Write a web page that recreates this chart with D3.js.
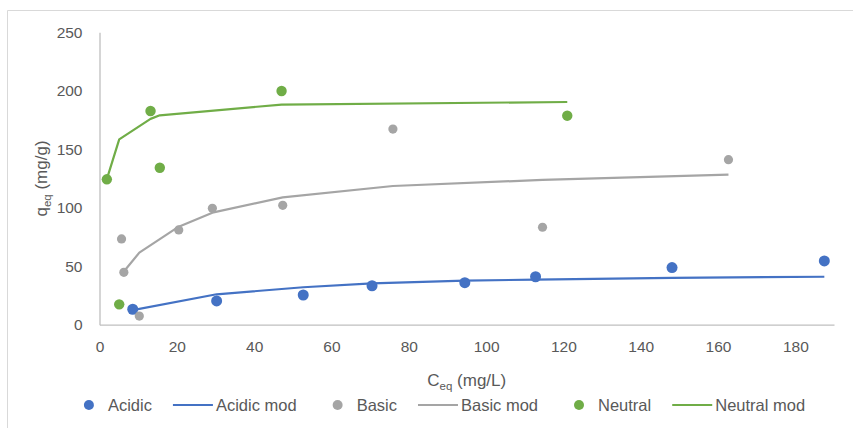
<!DOCTYPE html>
<html>
<head>
<meta charset="utf-8">
<script src="https://cdn.jsdelivr.net/npm/d3@7"></script>
<style>
  html, body { margin: 0; padding: 0; background: #fff; }
  svg { display: block; }
  text { font-family: "Liberation Sans", Arial, sans-serif; fill: #595959; }
</style>
</head>
<body>
<svg id="chart" width="853" height="428"></svg>
<script>
// ---- Data ----
const acidicX   = [8.6, 30.3, 52.7, 70.5, 94.5, 112.8, 148.1, 187.5];
const acidicY   = [13.2, 20.3, 25.4, 33.3, 35.9, 41.0, 48.8, 54.5];
const acidicMod = [12.5, 26.0, 32.0, 35.4, 37.6, 38.6, 40.0, 41.0];

const basicX    = [5.7, 6.3, 10.3, 20.5, 29.2, 47.4, 75.9, 114.6, 162.7];
const basicY    = [73.3, 44.8, 7.4, 81.0, 99.5, 102.1, 167.3, 83.3, 141.1];
const basicMod  = [42.5, 45.5, 61.6, 83.8, 95.8, 108.9, 118.6, 123.8, 128.3];

const neutralX   = [1.9, 5.1, 13.2, 15.6, 47.1, 121.0];
const neutralY   = [124.3, 17.4, 182.7, 134.2, 199.8, 178.7];
const neutralMod = [124.5, 158.5, 176.0, 179.0, 188.2, 190.4];

const xTicks = [0, 20, 40, 60, 80, 100, 120, 140, 160, 180];
const yTicks = [0, 50, 100, 150, 200, 250];

const legendLabels = ["Acidic", "Acidic mod", "Basic", "Basic mod", "Neutral", "Neutral mod"];
const colors = { acidic: "#4472C4", basic: "#A5A5A5", neutral: "#70AD47" };

// ---- Layout ----
const svg = d3.select("#chart");
const plot = { left: 99.5, right: 834, top: 32.3, bottom: 324.7 };

const x = d3.scaleLinear().domain([0, 190]).range([plot.left, plot.right]);
const y = d3.scaleLinear().domain([0, 250]).range([plot.bottom, plot.top]);

// chart border (outer frame)
svg.append("path")
  .attr("d", `M7.5,430 L7.5,10.5 L860,10.5`)
  .attr("fill", "none").attr("stroke", "#D9D9D9").attr("stroke-width", 1);

// axes
const xAxis = d3.axisBottom(x).tickValues(xTicks).tickSize(0).tickPadding(16);
const gx = svg.append("g").attr("transform", `translate(0,${plot.bottom})`).call(xAxis);
gx.select(".domain").attr("stroke", "#BFBFBF").attr("stroke-width", 1.3);
gx.selectAll("text").attr("font-size", 15.5).style("fill", "#595959");

const yAxis = d3.axisLeft(y).tickValues(yTicks).tickSize(0).tickPadding(17);
const gy = svg.append("g").attr("transform", `translate(${plot.left},0)`).call(yAxis);
gy.select(".domain").attr("stroke", "#BFBFBF").attr("stroke-width", 1.3);
gy.selectAll("text").attr("font-size", 15.5).style("fill", "#595959");

// axis titles
const xt = svg.append("text").attr("x", (plot.left + plot.right) / 2).attr("y", 386)
  .attr("text-anchor", "middle").attr("font-size", 17);
xt.append("tspan").text("C");
xt.append("tspan").text("eq").attr("font-size", 11.5).attr("dy", 4);
xt.append("tspan").text(" (mg/L)").attr("dy", -4);

const yt = svg.append("text")
  .attr("transform", `translate(47,${(plot.top + plot.bottom) / 2}) rotate(-90)`)
  .attr("text-anchor", "middle").attr("font-size", 17);
yt.append("tspan").text("q");
yt.append("tspan").text("eq").attr("font-size", 11.5).attr("dy", 4);
yt.append("tspan").text(" (mg/g)").attr("dy", -4);

// series
const series = [
  { key: "acidic", xs: acidicX, ys: acidicY, mod: acidicMod, r: 5.5 },
  { key: "basic", xs: basicX, ys: basicY, mod: basicMod, r: 4.6 },
  { key: "neutral", xs: neutralX, ys: neutralY, mod: neutralMod, r: 5.2 }
];

const line = d3.line().x(d => x(d[0])).y(d => y(d[1]));

series.forEach(s => {
  const modPts = s.xs.map((v, i) => [v, s.mod[i]]);
  svg.append("path").datum(modPts)
    .attr("d", line).attr("fill", "none")
    .attr("stroke", colors[s.key]).attr("stroke-width", 2.2)
    .attr("stroke-linejoin", "round");
});
series.forEach(s => {
  const pts = s.xs.map((v, i) => [v, s.ys[i]]);
  svg.append("g").selectAll("circle").data(pts).join("circle")
    .attr("cx", d => x(d[0])).attr("cy", d => y(d[1])).attr("r", s.r)
    .attr("fill", colors[s.key]);
});

// legend
const legendY = 405;
const legendItems = [
  { label: legendLabels[0], key: "acidic", type: "dot" },
  { label: legendLabels[1], key: "acidic", type: "line" },
  { label: legendLabels[2], key: "basic", type: "dot" },
  { label: legendLabels[3], key: "basic", type: "line" },
  { label: legendLabels[4], key: "neutral", type: "dot" },
  { label: legendLabels[5], key: "neutral", type: "line" }
];
const lg = svg.append("g");
let cursor = 0;
legendItems.forEach(it => {
  const g = lg.append("g").attr("transform", `translate(${cursor},0)`);
  let symW, gap;
  if (it.type === "dot") {
    g.append("circle").attr("cx", 5).attr("cy", legendY).attr("r", 5).attr("fill", colors[it.key]);
    symW = 24; gap = 21;
  } else {
    g.append("line").attr("x1", 0).attr("x2", 40).attr("y1", legendY).attr("y2", legendY)
      .attr("stroke", colors[it.key]).attr("stroke-width", 2.2);
    symW = 43; gap = 36;
  }
  const t = g.append("text").attr("x", symW).attr("y", legendY + 6).attr("font-size", 16.5).text(it.label);
  cursor += symW + t.node().getComputedTextLength() + gap;
});
const totalW = cursor - 36;
lg.attr("transform", `translate(${444.5 - totalW / 2},0)`);
</script>
</body>
</html>
